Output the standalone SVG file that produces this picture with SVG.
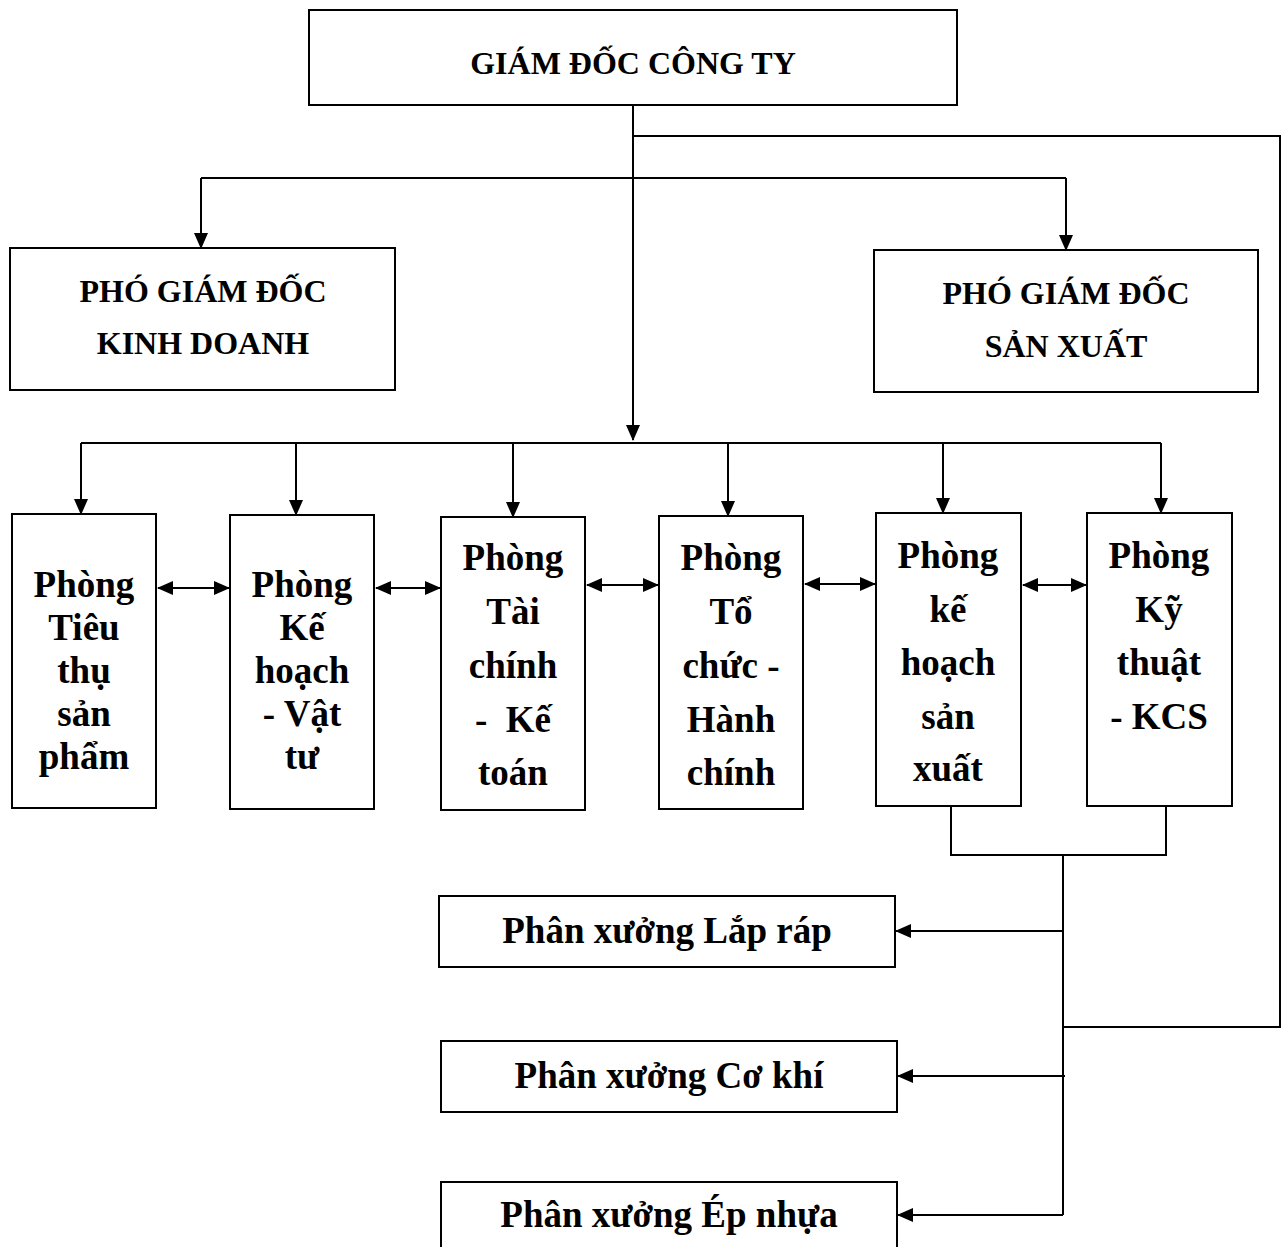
<svg xmlns="http://www.w3.org/2000/svg" width="1286" height="1247" viewBox="0 0 1286 1247">
<style>
.box{fill:#fff;stroke:#000;stroke-width:2}
.t{font-family:"Liberation Serif","Times New Roman",serif;font-weight:bold;fill:#000;text-anchor:middle}
.h{font-size:32px}
.p{font-size:37px}
.c{fill:none;stroke:#000;stroke-width:2}
.a{marker-end:url(#ah)}
.d{marker-end:url(#ah);marker-start:url(#ah)}
</style>
<defs>
<marker id="ah" markerUnits="userSpaceOnUse" markerWidth="16" markerHeight="14" refX="15" refY="7" orient="auto-start-reverse" viewBox="0 0 16 14">
<path d="M0,0 L16,7 L0,14 z" fill="#000"/>
</marker>
</defs>
<g id="connectors">
<path class="c a" d="M633,105 V440"/>
<path class="c" d="M633,136 H1280 V1027 H1063"/>
<path class="c" d="M201,178 H1066"/>
<path class="c a" d="M201,178 V248"/>
<path class="c a" d="M1066,178 V250"/>
<path class="c" d="M81,443 H1161"/>
<path class="c a" d="M81,443 V514"/>
<path class="c a" d="M296,443 V515"/>
<path class="c a" d="M513,443 V517"/>
<path class="c a" d="M728,443 V516"/>
<path class="c a" d="M943,443 V513"/>
<path class="c a" d="M1161,443 V513"/>
<path class="c d" d="M158,588 H229"/>
<path class="c d" d="M376,588 H440"/>
<path class="c d" d="M587,585 H658"/>
<path class="c d" d="M805,584 H875"/>
<path class="c d" d="M1023,585 H1086"/>
<path class="c" d="M951,806 V855 H1166 V806"/>
<path class="c" d="M1063,855 V1215"/>
<path class="c a" d="M1063,931 H896"/>
<path class="c a" d="M1065,1076 H898"/>
<path class="c a" d="M1063,1215 H898"/>
</g>
<g id="giam-doc">
<rect class="box" x="309" y="10" width="648" height="95"/>
<text class="t h" x="633" y="74">GIÁM ĐỐC CÔNG TY</text>
</g>
<g id="pgd-kinh-doanh">
<rect class="box" x="10" y="248" width="385" height="142"/>
<text class="t h" x="203" y="302">PHÓ GIÁM ĐỐC</text>
<text class="t h" x="203" y="354">KINH DOANH</text>
</g>
<g id="pgd-san-xuat">
<rect class="box" x="874" y="250" width="384" height="142"/>
<text class="t h" x="1066" y="304">PHÓ GIÁM ĐỐC</text>
<text class="t h" x="1066" y="357">SẢN XUẤT</text>
</g>
<g id="phong-tieu-thu">
<rect class="box" x="12" y="514" width="144" height="294"/>
<text class="t p" x="84" y="597">Phòng</text>
<text class="t p" x="84" y="640">Tiêu</text>
<text class="t p" x="84" y="683">thụ</text>
<text class="t p" x="84" y="726">sản</text>
<text class="t p" x="84" y="769">phẩm</text>
</g>
<g id="phong-ke-hoach-vat-tu">
<rect class="box" x="230" y="515" width="144" height="294"/>
<text class="t p" x="302" y="597">Phòng</text>
<text class="t p" x="302" y="640">Kế</text>
<text class="t p" x="302" y="683">hoạch</text>
<text class="t p" x="302" y="726">- Vật</text>
<text class="t p" x="302" y="769">tư</text>
</g>
<g id="phong-tai-chinh">
<rect class="box" x="441" y="517" width="144" height="293"/>
<text class="t p" x="513" y="570">Phòng</text>
<text class="t p" x="513" y="624">Tài</text>
<text class="t p" x="513" y="678">chính</text>
<text class="t p" x="513" y="732" xml:space="preserve">-  Kế</text>
<text class="t p" x="513" y="785">toán</text>
</g>
<g id="phong-to-chuc">
<rect class="box" x="659" y="516" width="144" height="293"/>
<text class="t p" x="731" y="570">Phòng</text>
<text class="t p" x="731" y="624">Tổ</text>
<text class="t p" x="731" y="678">chức -</text>
<text class="t p" x="731" y="732">Hành</text>
<text class="t p" x="731" y="785">chính</text>
</g>
<g id="phong-ke-hoach-san-xuat">
<rect class="box" x="876" y="513" width="145" height="293"/>
<text class="t p" x="948" y="568">Phòng</text>
<text class="t p" x="948" y="622">kế</text>
<text class="t p" x="948" y="675">hoạch</text>
<text class="t p" x="948" y="729">sản</text>
<text class="t p" x="948" y="781">xuất</text>
</g>
<g id="phong-ky-thuat">
<rect class="box" x="1087" y="513" width="145" height="293"/>
<text class="t p" x="1159" y="568">Phòng</text>
<text class="t p" x="1159" y="622">Kỹ</text>
<text class="t p" x="1159" y="675">thuật</text>
<text class="t p" x="1159" y="729">- KCS</text>
</g>
<g id="px-lap-rap">
<rect class="box" x="439" y="896" width="456" height="71"/>
<text class="t p" x="667" y="943">Phân xưởng Lắp ráp</text>
</g>
<g id="px-co-khi">
<rect class="box" x="441" y="1041" width="456" height="71"/>
<text class="t p" x="669" y="1088">Phân xưởng Cơ khí</text>
</g>
<g id="px-ep-nhua">
<rect class="box" x="441" y="1182" width="456" height="70"/>
<text class="t p" x="669" y="1227">Phân xưởng Ép nhựa</text>
</g>
</svg>
